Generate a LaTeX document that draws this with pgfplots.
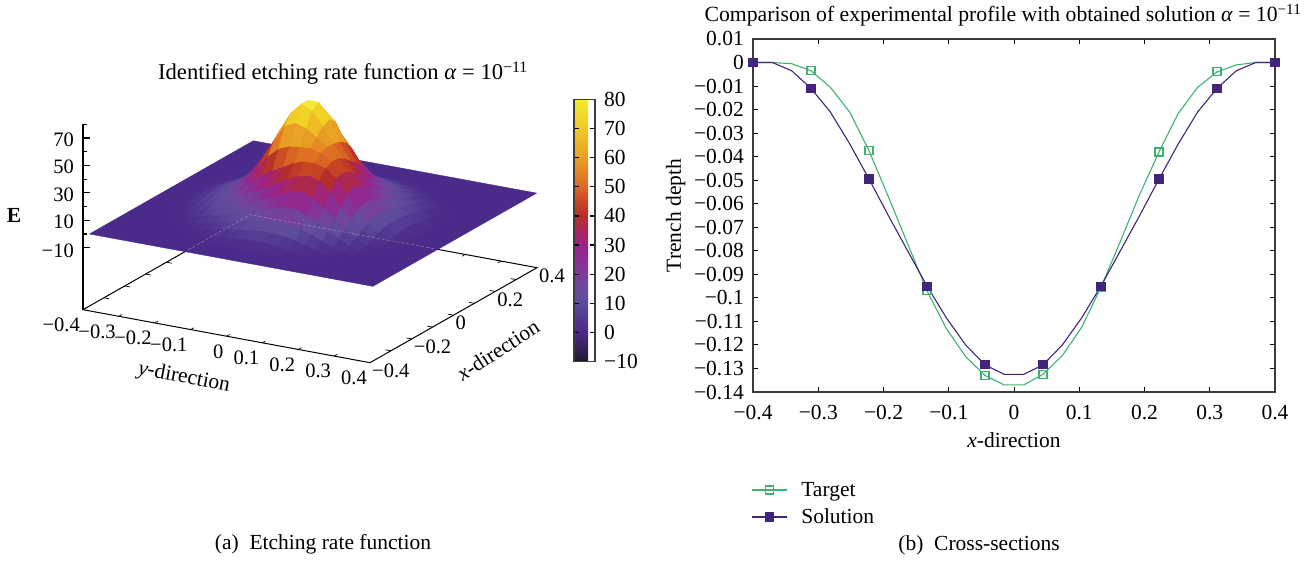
\documentclass[border=0pt]{standalone}
\usepackage{pgfplots}
\pgfplotsset{compat=1.18}
\usepackage{fontspec}
\setmainfont{Liberation Serif}
\newcommand\fs{\fontsize{21.5}{24}\selectfont}
\definecolor{tgt}{RGB}{60,179,113}
\definecolor{sol}{RGB}{66,36,122}
\definecolor{axc}{RGB}{60,60,60}
\pgfplotsset{
  colormap={etch}{rgb255=(32,24,44) rgb255=(54,33,90) rgb255=(75,42,136) rgb255=(82,55,145)
    rgb255=(92,75,155) rgb255=(105,75,158) rgb255=(125,60,155)
    rgb255=(140,45,148) rgb255=(155,35,135) rgb255=(170,38,90)
    rgb255=(182,45,40) rgb255=(200,70,35) rgb255=(220,105,35) rgb255=(226,132,35)
    rgb255=(232,160,35) rgb255=(236,180,35) rgb255=(240,200,35) rgb255=(242,218,42) rgb255=(245,235,50)}
}
\begin{document}
\begin{tikzpicture}
\useasboundingbox (0,0) rectangle (1316pt,563pt);
% ---------- left: surface ----------
\begin{axis}[
  at={(310pt,350pt)}, anchor=origin,
  x={(208.75pt,118.75pt)}, y={(358.75pt,-66.25pt)}, z={(0pt,1.37pt)},
  xmin=-0.4,xmax=0.4,ymin=-0.4,ymax=0.4,zmin=-55.25,zmax=80,
  clip=false,
  point meta min=-10, point meta max=80,
  axis line style={draw=none},
  tick style={draw=none},
  tick label style={font=\fontsize{20.5}{24}\selectfont, inner sep=0pt},
  xtick={-0.4,-0.2,0,0.2,0.4},
  xticklabels={−0.4,−0.2,0,0.2,0.4},
  ytick={-0.4,-0.3,-0.2,-0.1,0,0.1,0.2,0.3,0.4},
  yticklabels={−0.4,−0.3,−0.2,−0.1,0,0.1,0.2,0.3,0.4},
  ztick={-10,10,30,50,70},
  zticklabels={−10,10,30,50,70},
  x tick label style={anchor=west,xshift=2pt,yshift=-8pt},
  y tick label style={anchor=north east,xshift=-3pt,yshift=-8pt},
  z tick label style={xshift=-9pt},
]
% floor axes behind the surface
\draw[black,line width=1pt] (axis cs:-0.4,-0.4,-55.25) -- (axis cs:0.4,-0.4,-55.25) -- (axis cs:0.4,0.4,-55.25) -- (axis cs:-0.4,0.4,-55.25) -- cycle;
\draw[black,line width=1.6pt] (axis cs:-0.4,-0.4,-55.25) -- (axis cs:-0.4,-0.4,80);
\pgfplotsinvokeforeach{-10,10,30,50,70}{\draw[black,line width=1.2pt] (axis cs:-0.4,-0.4,#1) -- ++(7pt,0pt);}
\pgfplotsinvokeforeach{0,20,40,60,80}{\draw[black,line width=1.2pt] (axis cs:-0.4,-0.4,#1) -- ++(4.5pt,0pt);}
\pgfplotsinvokeforeach{-0.3,-0.2,-0.1,0,0.1,0.2,0.3}{
  \draw[black,line width=.7pt] (axis cs:-0.4,#1,-55.25) -- (axis cs:-0.385,#1,-55.25);
  \draw[black,line width=.7pt] (axis cs:0.4,#1,-55.25) -- (axis cs:0.385,#1,-55.25);
  \draw[black,line width=.7pt] (axis cs:#1,0.4,-55.25) -- (axis cs:#1,0.385,-55.25);
  \draw[black,line width=.7pt] (axis cs:#1,-0.4,-55.25) -- (axis cs:#1,-0.385,-55.25);
}
% flat sheet
\addplot3[surf,shader=flat mean,mesh/rows=2] coordinates {
 (-0.395,-0.385,0.3) (-0.395,0.405,0.3)

 (0.39,-0.385,0.3) (0.39,0.405,0.3)
};
% central part of the mesh, written from the back row to the front row
\addplot3[surf,shader=flat mean,z buffer=none,mesh/rows=22,mesh/cols=22] table[row sep=crcr,header=false,
  x expr={0.3111-0.02963*floor(\coordindex/22)},
  y expr={-0.3111+0.02963*mod(\coordindex,22)},
  z expr=\thisrowno{0}] {
0.3\\0.3\\0.3\\0.3\\0.3\\0.3\\0.3\\0.3\\0.4\\0.4\\0.4\\0.4\\0.4\\0.3\\0.3\\0.3\\0.3\\0.3\\0.3\\0.3\\0.3\\0.3\\
0.3\\0.3\\0.3\\0.3\\0.3\\0.3\\0.3\\1.5\\2.5\\3.2\\3.5\\3.5\\3.2\\2.5\\1.5\\0.3\\0.3\\0.3\\0.3\\0.3\\0.3\\0.3\\
0.3\\0.3\\0.3\\0.3\\0.3\\1.4\\3.2\\4.6\\5.7\\6.4\\6.9\\6.9\\6.4\\5.7\\4.6\\3.2\\1.4\\0.3\\0.3\\0.3\\0.3\\0.3\\
0.3\\0.3\\0.3\\0.3\\2.2\\4.3\\6.1\\7.6\\9\\10\\10.5\\10.5\\10\\9\\7.6\\6.1\\4.3\\2.2\\0.3\\0.3\\0.3\\0.3\\
0.3\\0.3\\0.3\\2.2\\4.6\\6.9\\9\\11\\12.8\\14.2\\15\\15\\14.2\\12.8\\11\\9\\6.9\\4.6\\2.2\\0.3\\0.3\\0.3\\
0.3\\0.3\\1.4\\4.3\\6.9\\9.5\\12.1\\15\\17.8\\20.3\\21.6\\21.6\\20.3\\17.8\\15\\12.2\\9.5\\6.9\\4.3\\1.4\\0.3\\0.3\\
0.3\\0.3\\3.2\\6.1\\9\\12.1\\15.8\\20.3\\24.8\\28.8\\31.1\\31.1\\28.8\\24.8\\20.2\\15.8\\12\\8.8\\6\\3.2\\0.3\\0.3\\
0.3\\1.5\\4.6\\7.6\\11\\15\\20.3\\26.7\\33.9\\40.1\\44\\44\\40.1\\33.8\\26.7\\19.8\\14.6\\10.8\\7.7\\4.7\\1.5\\0.3\\
0.4\\2.5\\5.7\\9\\12.8\\17.8\\24.8\\33.9\\43.9\\53.1\\58.7\\58.6\\53.1\\43.9\\32.6\\23.6\\17.4\\12.9\\9.3\\6\\2.7\\0.4\\
0.4\\3.2\\6.4\\10\\14.2\\20.3\\28.8\\40.1\\53.1\\65\\72.1\\72.1\\65\\50.8\\37.5\\27.6\\20.8\\15.4\\11\\7.1\\3.6\\0.5\\
0.4\\3.5\\6.9\\10.5\\15\\21.6\\31.1\\44\\58.7\\72.1\\80.1\\80.1\\68.6\\54.1\\41.6\\32.2\\24.5\\18\\12.8\\8.2\\4.1\\0.5\\
0.4\\3.5\\6.9\\10.5\\15\\21.6\\31.1\\44\\58.6\\72.1\\80.1\\76.1\\66.2\\55.1\\45.9\\36.7\\28.2\\20.9\\14.4\\8.9\\4.3\\0.6\\
0.4\\3.2\\6.4\\10\\14.2\\20.3\\28.8\\40.1\\53.1\\65\\68.6\\66.2\\60.9\\55.6\\48.5\\40.1\\31.8\\23.1\\15\\8.7\\4.2\\0.7\\
0.3\\2.5\\5.7\\9\\12.8\\17.8\\24.8\\33.8\\43.9\\50.8\\54.1\\55.1\\55.6\\53.5\\48.6\\42\\33\\22.6\\14.1\\8.1\\3.4\\0.5\\
0.3\\1.5\\4.6\\7.6\\11\\15\\20.2\\26.7\\32.6\\37.5\\41.6\\45.9\\48.5\\48.6\\46.4\\40.1\\29.7\\19.7\\12.3\\6.6\\2.2\\0.3\\
0.3\\0.3\\3.2\\6.1\\9\\12.2\\15.8\\19.8\\23.6\\27.6\\32.2\\36.7\\40.1\\42\\40.1\\32.6\\23.5\\15.9\\9.4\\4.6\\0.7\\0.3\\
0.3\\0.3\\1.4\\4.3\\6.9\\9.5\\12\\14.6\\17.4\\20.8\\24.5\\28.2\\31.8\\33\\29.7\\23.5\\17.4\\11.2\\6.3\\2.1\\0.3\\0.3\\
0.3\\0.3\\0.3\\2.2\\4.6\\6.9\\8.8\\10.8\\12.9\\15.4\\18\\20.9\\23.1\\22.6\\19.7\\15.9\\11.2\\6.9\\3.1\\0.3\\0.3\\0.3\\
0.3\\0.3\\0.3\\0.3\\2.2\\4.3\\6\\7.7\\9.3\\11\\12.8\\14.4\\15\\14.1\\12.3\\9.4\\6.3\\3.1\\0.3\\0.3\\0.3\\0.3\\
0.3\\0.3\\0.3\\0.3\\0.3\\1.4\\3.2\\4.7\\6\\7.1\\8.2\\8.9\\8.7\\8.1\\6.6\\4.6\\2.1\\0.3\\0.3\\0.3\\0.3\\0.3\\
0.3\\0.3\\0.3\\0.3\\0.3\\0.3\\0.3\\1.5\\2.7\\3.6\\4.1\\4.3\\4.2\\3.4\\2.2\\0.7\\0.3\\0.3\\0.3\\0.3\\0.3\\0.3\\
0.3\\0.3\\0.3\\0.3\\0.3\\0.3\\0.3\\0.3\\0.4\\0.5\\0.5\\0.6\\0.7\\0.5\\0.3\\0.3\\0.3\\0.3\\0.3\\0.3\\0.3\\0.3\\
};
\draw[white!70!gray,densely dashed,line width=.4pt,opacity=.55] (axis cs:0.104,-0.4,-55.25) -- (axis cs:0.4,-0.4,-55.25) -- (axis cs:0.4,0.116,-55.25);
\end{axis}
% colour bar
\begin{axis}[
  at={(574pt,201.5pt)}, anchor=south west, scale only axis, width=21pt, height=262pt,
  hide axis, xmin=0,xmax=1,ymin=0,ymax=1,
  point meta min=-10, point meta max=80,
  colorbar,
  colorbar style={
    at={(0,0)}, anchor=south west, scale only axis, width=21pt, height=262pt,
    ytick={-10,0,10,20,30,40,50,60,70,80},
    yticklabels={−10,0,10,20,30,40,50,60,70,80},
    ytick pos=both, yticklabel pos=right, tick align=inside,
    major tick length=5pt,
    tick style={black,line width=1.2pt},
    axis line style={axc,line width=1.2pt},
    tick label style={font=\fs,inner sep=0pt},
    yticklabel shift=9pt,
  },
]
\end{axis}
\node[font=\fontsize{22.6}{24}\selectfont] at (343pt,490pt) {Identified etching rate function \textit{α} = 10\textsuperscript{−11}};
\node[font=\fs\bfseries] at (14pt,348pt) {E};
\node[font=\fs,rotate=-11] at (184pt,185pt) {\textit{y}-direction};
\node[font=\fs,rotate=33] at (498pt,213pt) {\textit{x}-direction};
\node[font=\fs] at (323pt,19pt) {(a)\ \ Etching rate function};
\node[font=\fs] at (979pt,18pt) {(b)\ \ Cross-sections};
% ---------- right: cross-sections ----------
\begin{axis}[
  at={(753pt,171pt)}, anchor=south west, scale only axis, width=522pt, height=353pt,
  xmin=-0.4,xmax=0.4,ymin=-0.14,ymax=0.01,
  clip=false,
  axis line style={axc,line width=1.3pt},
  tick align=inside, major tick length=5pt,
  tick style={black,line width=.9pt},
  tick label style={font=\fs,inner sep=0pt},
  xticklabel shift=13pt, yticklabel shift=9pt,
  xtick={-0.4,-0.3,-0.2,-0.1,0,0.1,0.2,0.3,0.4},
  xticklabels={−0.4,−0.3,−0.2,−0.1,0,0.1,0.2,0.3,0.4},
  ytick={-0.14,-0.13,-0.12,-0.11,-0.1,-0.09,-0.08,-0.07,-0.06,-0.05,-0.04,-0.03,-0.02,-0.01,0,0.01},
  yticklabels={−0.14,−0.13,−0.12,−0.11,−0.1,−0.09,−0.08,−0.07,−0.06,−0.05,−0.04,−0.03,−0.02,−0.01,0,0.01},
  xlabel={\textit{x}-direction}, ylabel={Trench depth},
  label style={font=\fs},
  xlabel style={at={(axis description cs:0.5,0)},yshift=-37pt,anchor=north},
  ylabel style={at={(axis description cs:0,0.5)},yshift=64pt,anchor=south},
  title={Comparison of experimental profile with obtained solution \textit{α} = 10\textsuperscript{−11}},
  title style={font=\fontsize{21.7}{24}\selectfont,at={(axis description cs:0.5,1)},yshift=3pt,xshift=-11pt,anchor=south},
  legend cell align=left,
  legend style={at={(axis description cs:0,0)},anchor=north west,draw=none,fill=none,font=\fs,
    yshift=-86pt,xshift=-5pt,row sep=7pt},
]
\addplot[tgt,line width=1.1pt,mark=square,mark size=4pt,mark repeat=3,mark options={line width=1.1pt},
  legend image code/.code={
    \draw[draw=tgt,line width=1.1pt] (0pt,0pt) -- (35pt,0pt);
    \draw[draw=tgt,line width=1.1pt,mark=square,mark size=4pt,mark options={draw=tgt},mark repeat=1] plot coordinates {(17.5pt,0pt)};
    \path (47pt,0pt);
  }] coordinates {
(-0.4000,0)(-0.3704,0)(-0.3407,-0.0005)(-0.3111,-0.0035)(-0.2815,-0.0105)(-0.2519,-0.021)(-0.2222,-0.0375)
(-0.1926,-0.057)(-0.1630,-0.077)(-0.1333,-0.097)(-0.1037,-0.113)(-0.0741,-0.125)(-0.0444,-0.133)(-0.0148,-0.137)
(0.0148,-0.137)(0.0444,-0.1325)(0.0741,-0.1245)(0.1037,-0.1125)(0.1333,-0.0955)(0.1630,-0.076)(0.1926,-0.056)
(0.2222,-0.038)(0.2519,-0.0215)(0.2815,-0.0105)(0.3111,-0.004)(0.3407,-0.001)(0.3704,0)(0.4000,0)};
\addlegendentry{Target}
\addplot[sol,line width=1.1pt,mark=square*,mark size=4pt,mark repeat=3,
  legend image code/.code={
    \draw[draw=sol,line width=1.1pt] (0pt,0pt) -- (35pt,0pt);
    \draw[draw=sol,fill=sol,line width=1.1pt,mark=square*,mark size=4pt,mark options={draw=sol,fill=sol},mark repeat=1] plot coordinates {(17.5pt,0pt)};
    \path (47pt,0pt);
  }] coordinates {
(-0.4000,0)(-0.3704,0)(-0.3407,-0.0035)(-0.3111,-0.011)(-0.2815,-0.021)(-0.2519,-0.0345)(-0.2222,-0.0495)
(-0.1926,-0.065)(-0.1630,-0.08)(-0.1333,-0.095)(-0.1037,-0.1085)(-0.0741,-0.12)(-0.0444,-0.1285)(-0.0148,-0.1325)
(0.0148,-0.1325)(0.0444,-0.1285)(0.0741,-0.12)(0.1037,-0.1085)(0.1333,-0.095)(0.1630,-0.08)(0.1926,-0.065)
(0.2222,-0.0495)(0.2519,-0.0345)(0.2815,-0.021)(0.3111,-0.011)(0.3407,-0.0035)(0.3704,0)(0.4000,0)};
\addlegendentry{Solution}
\end{axis}
\end{tikzpicture}
\end{document}
